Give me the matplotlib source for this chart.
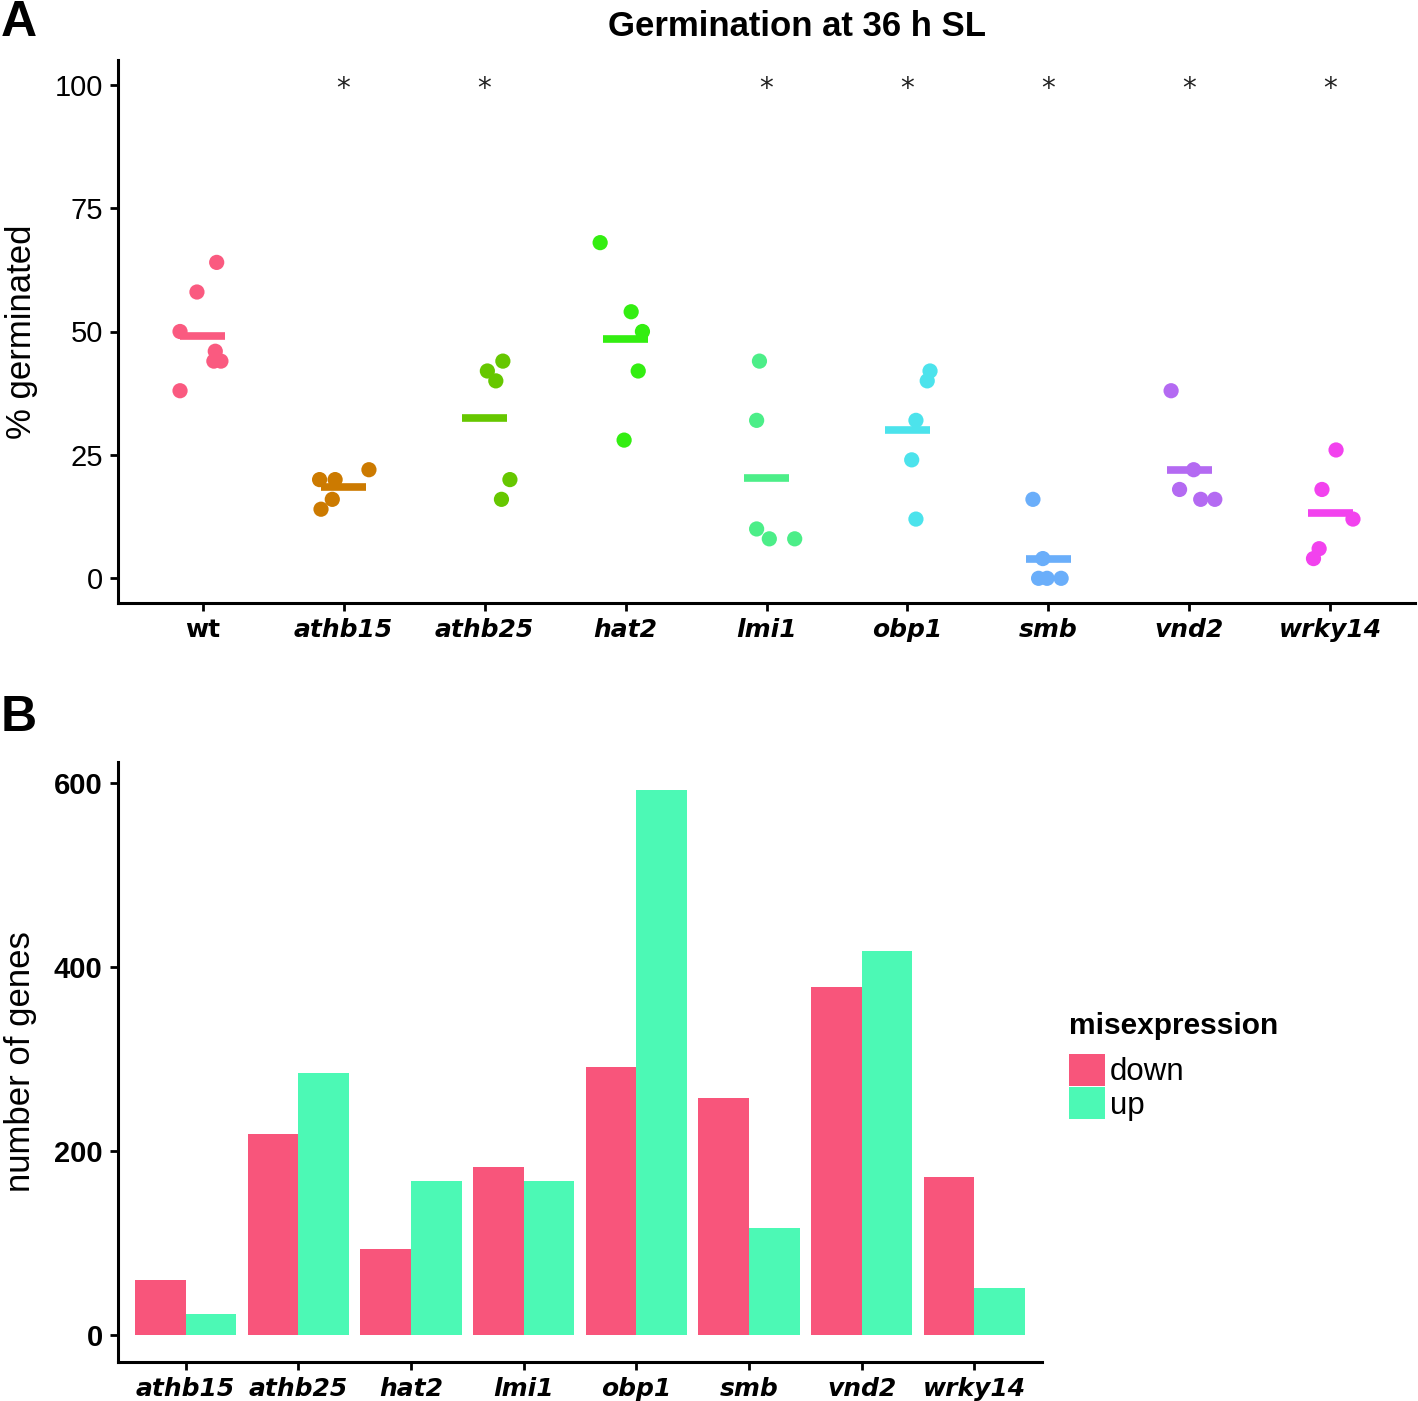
import numpy as np
import matplotlib
matplotlib.use("Agg")
import matplotlib.pyplot as plt
from matplotlib.patches import Patch

plt.rcParams['font.family'] = ['Liberation Sans', 'DejaVu Sans']

# ---------------- Panel A data ----------------
genotypes = ["wt", "athb15", "athb25", "hat2", "lmi1", "obp1", "smb", "vnd2", "wrky14"]
germ_wt = [64, 58, 50, 46, 44, 44, 38]
germ_athb15 = [22, 20, 20, 16, 14]
germ_athb25 = [44, 42, 40, 20, 16]
germ_hat2 = [68, 54, 50, 42, 28]
germ_lmi1 = [44, 32, 10, 8, 8]
germ_obp1 = [42, 40, 32, 24, 12]
germ_smb = [16, 4, 0, 0, 0]
germ_vnd2 = [38, 22, 18, 16, 16]
germ_wrky14 = [26, 18, 12, 6, 4]
# horizontal jitter (category units)
jit_wt = [0.10, -0.04, -0.16, 0.09, 0.08, 0.13, -0.16]
jit_athb15 = [0.18, -0.17, -0.06, -0.08, -0.16]
jit_athb25 = [0.13, 0.02, 0.08, 0.18, 0.12]
jit_hat2 = [-0.18, 0.04, 0.12, 0.09, -0.01]
jit_lmi1 = [-0.05, -0.07, -0.07, 0.02, 0.20]
jit_obp1 = [0.16, 0.14, 0.06, 0.03, 0.06]
jit_smb = [-0.11, -0.04, -0.07, -0.01, 0.09]
jit_vnd2 = [-0.13, 0.03, -0.07, 0.08, 0.18]
jit_wrky14 = [0.04, -0.06, 0.16, -0.08, -0.12]
significant = [False, True, True, False, True, True, True, True, True]
geno_colors = ["#FA5A80", "#CC7A00", "#66C700", "#33EE11", "#4CEE88",
               "#4CE3EC", "#6AAEFA", "#B46AF2", "#F242EE"]

# ---------------- Panel B data ----------------
mutants = ["athb15", "athb25", "hat2", "lmi1", "obp1", "smb", "vnd2", "wrky14"]
genes_down = [60, 218, 93, 182, 291, 257, 378, 171]
genes_up = [23, 285, 167, 167, 592, 116, 417, 51]
col_down = "#F8557B"
col_up = "#4CF9B5"

W, H = 1418, 1401
fig = plt.figure(figsize=(W / 100, H / 100), dpi=100)

def fx(px):
    return px / W

def fy(py):
    return 1 - py / H

axA = fig.add_axes([fx(118), fy(603), fx(1415) - fx(118), fy(60) - fy(603)])
axB = fig.add_axes([fx(118), fy(1362), fx(1042) - fx(118), fy(762) - fy(1362)])

germ = [germ_wt, germ_athb15, germ_athb25, germ_hat2, germ_lmi1,
        germ_obp1, germ_smb, germ_vnd2, germ_wrky14]
jits = [jit_wt, jit_athb15, jit_athb25, jit_hat2, jit_lmi1,
        jit_obp1, jit_smb, jit_vnd2, jit_wrky14]

for i, (vals, jit, c) in enumerate(zip(germ, jits, geno_colors)):
    xpos = i + 1 + np.array(jit)
    axA.scatter(xpos, vals, s=120, color=c, edgecolors='none', zorder=3)
    m = np.mean(vals)
    axA.hlines(m, i + 1 - 0.16, i + 1 + 0.16, color=c, lw=5.5, zorder=2)
    if significant[i]:
        axA.text(i + 1, 99.2, "*", ha='center', va='center', fontsize=20,
                 color='#222222', family='DejaVu Sans')

axA.set_xlim(0.4, 9.6)
axA.set_ylim(-5, 105)
axA.set_yticks([0, 25, 50, 75, 100])
axA.set_xticks(range(1, 10))
axA.set_xticklabels(genotypes)
axA.set_ylabel("% germinated", fontsize=25, labelpad=12)
fig.text(fx(797), fy(27), "Germination at 36 h SL", ha='center', va='center',
         fontsize=25, fontweight='bold')

x = np.arange(1, len(mutants) + 1)
bw = 0.45
axB.bar(x - bw / 2, genes_down, width=bw, color=col_down, label="down")
axB.bar(x + bw / 2, genes_up, width=bw, color=col_up, label="up")
axB.set_xlim(0.4, 8.6)
axB.set_ylim(-29.6, 622.6)
axB.set_yticks([0, 200, 400, 600])
axB.set_xticks(x)
axB.set_xticklabels(mutants)
axB.set_ylabel("number of genes", fontsize=25, labelpad=12)

for ax in (axA, axB):
    for s in ("top", "right"):
        ax.spines[s].set_visible(False)
    for s in ("left", "bottom"):
        ax.spines[s].set_linewidth(2.2)
        ax.spines[s].set_color("black")
    ax.tick_params(axis='both', length=6, width=2, color='black', direction='out')
    ax.tick_params(axis='y', labelsize=21, pad=5)
    ax.tick_params(axis='x', pad=5)
    for lbl in ax.get_xticklabels():
        lbl.set_family('DejaVu Sans')
        lbl.set_fontsize(18)
        lbl.set_fontweight('bold')
        lbl.set_style('normal' if lbl.get_text() == 'wt' else 'italic')

for lbl in axB.get_yticklabels():
    lbl.set_fontweight('bold')

fig.text(fx(1), fy(36), "A", ha='left', va='baseline', fontsize=36, fontweight='bold')
fig.text(fx(1), fy(731), "B", ha='left', va='baseline', fontsize=36, fontweight='bold')

handles = [Patch(facecolor=col_down, edgecolor='none', label="down"),
           Patch(facecolor=col_up, edgecolor='none', label="up")]
leg = fig.legend(handles=handles, title="misexpression", loc='upper left',
                 bbox_to_anchor=(fx(1069), fy(1012)), frameon=False,
                 fontsize=22.5, title_fontproperties={'weight': 'bold', 'size': 21.5},
                 handlelength=1.15, handleheight=1.2, handletextpad=0.15,
                 labelspacing=0.0, borderpad=0.0, borderaxespad=0.0)
leg._legend_box.align = "left"
leg._legend_box.sep = 10

fig.savefig("out.png", dpi=100)
